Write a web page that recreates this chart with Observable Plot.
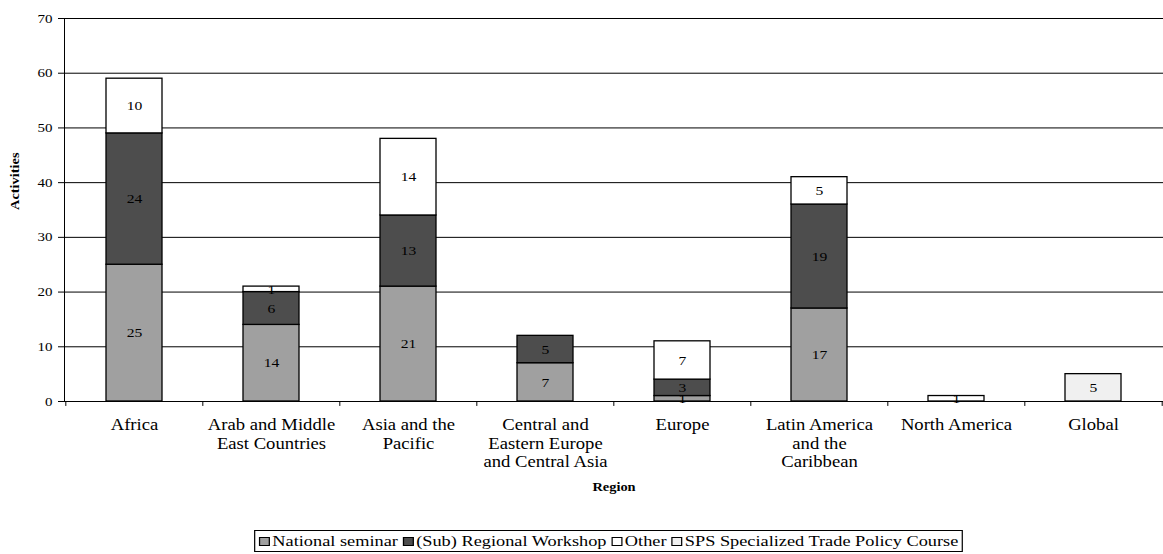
<!DOCTYPE html>
<html>
<head>
<meta charset="utf-8">
<script src="https://cdn.jsdelivr.net/npm/d3@7"></script>
<script src="https://cdn.jsdelivr.net/npm/@observablehq/plot@0.6"></script>
<style>
  html, body { margin: 0; padding: 0; background: #fff; }
  body { width: 1163px; height: 554px; overflow: hidden; position: relative; font-family: "Liberation Serif", "Times New Roman", serif; }
  #legendWrap { position: absolute; left: 27px; top: 530px; width: 1163px; display: flex; justify-content: center; }
  #legend { height: 20px; border: 1px solid #000; display: flex; align-items: center; padding: 0 3px; font-size: 15px; white-space: nowrap; transform: scaleX(1.22); transform-origin: center; }
  #legend .item { display: flex; align-items: center; margin-right: 4px; }
  #legend .item:last-child { margin-right: 0; }
  #legend .sw { width: 9px; height: 9px; border: 1px solid #000; margin-right: 2px; box-sizing: border-box; }
</style>
</head>
<body>
<div id="chart"></div>
<div id="legendWrap"><div id="legend"></div></div>
<script>
const regions = [
  "Africa",
  "Arab and Middle East Countries",
  "Asia and the Pacific",
  "Central and Eastern Europe and Central Asia",
  "Europe",
  "Latin America and the Caribbean",
  "North America",
  "Global"
];
const regionLabels = [
  "Africa",
  "Arab and Middle\nEast Countries",
  "Asia and the\nPacific",
  "Central and\nEastern Europe\nand Central Asia",
  "Europe",
  "Latin America\nand the\nCaribbean",
  "North America",
  "Global"
];
const seriesNames = ["National seminar", "(Sub) Regional Workshop", "Other", "SPS Specialized Trade Policy Course"];
const seriesColors = ["#a0a0a0", "#4d4d4d", "#ffffff", "#f0f0f0"];
const nationalSeminar = [25, 14, 21, 7, 1, 17, 0, 0];
const regionalWorkshop = [24, 6, 13, 5, 3, 19, 0, 0];
const other = [10, 1, 14, 0, 7, 5, 1, 0];
const spsCourse = [0, 0, 0, 0, 0, 0, 0, 5];
const yTicks = [0, 10, 20, 30, 40, 50, 60, 70];

const seriesValues = [nationalSeminar, regionalWorkshop, other, spsCourse];
const data = [];
regions.forEach((r, i) => {
  seriesNames.forEach((s, j) => {
    const v = seriesValues[j][i];
    if (v > 0) data.push({region: r, series: s, value: v});
  });
});
const labelOf = new Map(regions.map((r, i) => [r, regionLabels[i]]));

const W = 1163, H = 515;
const mL = 64, mR = 0, mT = 18, mB = 114;
const step = (W - mL - mR) / regions.length;
const serif = "Liberation Serif";

const chart = Plot.plot({
  width: W,
  height: H,
  marginLeft: mL,
  marginRight: mR,
  marginTop: mT,
  marginBottom: mB,
  style: {fontFamily: serif, fontSize: "12px", color: "#000", background: "#fff"},
  x: {domain: regions, paddingInner: 0.593, paddingOuter: 0.2965, align: 0.5},
  y: {domain: [0, 70]},
  color: {domain: seriesNames, range: seriesColors},
  marks: [
    Plot.gridY(yTicks, {stroke: "#000", strokeOpacity: 1, strokeWidth: 1}),
    Plot.barY(data, Plot.stackY({x: "region", y: "value", fill: "series", stroke: "#000", strokeWidth: 1.3, order: seriesNames})),
    Plot.text(data, Plot.stackY({x: "region", y: "value", z: "series", text: d => String(d.value), order: seriesNames, fill: "#000", fontSize: 13, fontFamily: serif})),
    Plot.frame({anchor: "left", stroke: "#000"}),
    Plot.ruleY([0], {stroke: "#000"}),
    Plot.ruleX(regions, {x: d => d, y1: 0, y2: -0.9, dx: -step / 2, stroke: "#000"}),
    Plot.ruleX([regions[regions.length - 1]], {x: d => d, y1: 0, y2: -0.9, dx: step / 2, stroke: "#000"}),
    Plot.axisY({ticks: yTicks, tickSize: 6, tickPadding: 6, label: null, fontSize: 12.5, fontFamily: serif}),
    Plot.axisX({tickSize: 0, tickPadding: 16, label: null, tickFormat: d => labelOf.get(d), fontSize: 16.5, lineHeight: 1.1, fontFamily: serif}),
    Plot.text(["Activities"], {frameAnchor: "left", dx: -49, rotate: -90, fontWeight: "bold", fontSize: 12, fontFamily: serif, text: d => d}),
    Plot.text(["Region"], {frameAnchor: "bottom", dy: 89, fontWeight: "bold", fontSize: 12, fontFamily: serif, text: d => d})
  ]
});
document.getElementById("chart").appendChild(chart);

// the reference's lettering is horizontally wider than the plain font
function stretchText(sel, s) {
  chart.querySelectorAll(sel).forEach(t => {
    const tr = t.getAttribute("transform");
    if (tr && !t.hasAttribute("x")) {
      t.setAttribute("transform", tr + ` scale(${s},1)`);
    } else {
      const x = +(t.getAttribute("x") || 0);
      t.setAttribute("transform", `translate(${x},0) scale(${s},1) translate(${-x},0)` + (tr ? " " + tr : ""));
    }
  });
}
stretchText('g[aria-label="x-axis tick label"] text', 1.13);
stretchText('g[aria-label="y-axis tick label"] text', 1.2);
stretchText('g[aria-label="text"] text', 1.2);

const legend = document.getElementById("legend");
seriesNames.forEach((s, i) => {
  const item = document.createElement("div");
  item.className = "item";
  const sw = document.createElement("div");
  sw.className = "sw";
  sw.style.background = seriesColors[i];
  item.appendChild(sw);
  const t = document.createElement("span");
  t.textContent = s;
  item.appendChild(t);
  legend.appendChild(item);
});
</script>
</body>
</html>
